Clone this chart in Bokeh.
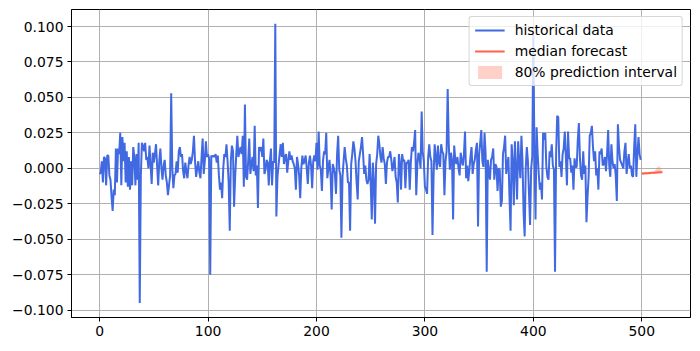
from bokeh.plotting import figure
from bokeh.models import Range1d, FixedTicker, CustomJSTickFormatter, Legend, LegendItem, ColumnDataSource
from bokeh.embed import file_html
from bokeh.resources import INLINE

hist = [
    -0.004, -0.003, 0.005, -0.010, 0.008, 0.007, -0.012, 0.009, 0.009, -0.005,
    -0.008, -0.020, -0.030, -0.015, -0.019, 0.014, -0.010, 0.014, 0.010, 0.025,
    -0.012, 0.022, 0.005, 0.018, -0.010, 0.012, -0.013, 0.008, -0.015, 0.005,
    -0.012, 0.015, 0.008, -0.012, 0.010, -0.008, 0.018, -0.095, -0.005, 0.018,
    0.016, 0.012, 0.018, 0.006, 0.008, 0.000, 0.016, 0.002, -0.011, 0.011,
    0.004, 0.010, 0.017, 0.002, -0.012, 0.005, 0.014, 0.000, -0.008, 0.002,
    0.006, -0.005, -0.010, -0.019, -0.012, -0.005, 0.053, 0.000, -0.014, -0.005,
    -0.004, 0.005, -0.003, 0.012, 0.015, 0.008, 0.010, -0.002, -0.007, 0.004,
    -0.002, -0.007, 0.002, 0.008, 0.003, 0.006, 0.012, 0.023, 0.005, -0.006,
    0.000, 0.005, -0.003, -0.007, 0.008, 0.021, -0.004, 0.005, 0.019, 0.008,
    0.010, 0.007, -0.075, 0.009, 0.008, 0.009, 0.008, 0.010, 0.004, 0.009,
    -0.005, -0.015, -0.010, -0.021, 0.000, 0.010, 0.008, 0.017, 0.005, -0.010,
    -0.044, 0.005, 0.016, 0.012, -0.027, -0.006, 0.010, 0.023, 0.008, 0.012,
    0.015, 0.010, 0.023, -0.013, 0.045, -0.006, -0.008, 0.005, 0.021, -0.004,
    0.003, 0.008, -0.002, 0.030, -0.005, 0.002, -0.028, 0.015, 0.012, 0.015,
    0.008, 0.021, -0.004, -0.001, 0.006, 0.004, -0.012, 0.005, 0.014, -0.012,
    0.005, 0.004, 0.102, -0.034, -0.006, 0.002, 0.010, 0.017, 0.008, 0.018,
    0.003, 0.008, 0.010, -0.003, 0.005, 0.012, 0.006, 0.009, 0.005, 0.003,
    0.000, -0.015, 0.008, 0.003, -0.005, -0.021, 0.000, 0.009, 0.003, 0.005,
    0.009, 0.000, -0.011, 0.004, 0.009, 0.002, -0.014, 0.005, 0.009, 0.005,
    0.018, -0.001, 0.026, 0.002, -0.001, -0.016, 0.005, 0.012, 0.010, 0.025,
    -0.007, 0.000, 0.006, -0.005, -0.029, 0.003, 0.000, -0.004, -0.018, 0.010,
    0.023, -0.001, -0.005, -0.049, -0.006, 0.005, 0.015, 0.007, 0.002, -0.010,
    -0.010, -0.044, 0.003, 0.010, 0.019, 0.014, 0.005, -0.010, -0.022, 0.005,
    0.010, 0.015, 0.022, 0.010, -0.004, 0.002, -0.008, -0.011, -0.008, 0.010,
    -0.011, -0.036, 0.004, -0.010, -0.039, 0.003, 0.010, 0.023, 0.017, 0.008,
    0.004, 0.015, 0.007, 0.003, -0.011, 0.004, 0.008, 0.008, 0.012, 0.006,
    -0.002, 0.002, 0.008, -0.006, -0.010, -0.024, 0.010, 0.004, -0.015, 0.010,
    0.005, 0.006, -0.014, 0.004, 0.004, 0.006, -0.015, 0.004, 0.015, 0.012,
    0.018, 0.027, -0.019, 0.002, 0.011, 0.008, 0.000, 0.040, 0.011, 0.005,
    -0.013, -0.015, -0.018, 0.008, 0.017, 0.008, 0.005, -0.047, -0.005, 0.017,
    0.008, -0.001, 0.016, 0.004, 0.001, 0.017, 0.012, 0.010, -0.019, 0.005,
    0.012, 0.056, 0.017, -0.001, 0.011, 0.006, -0.036, 0.016, 0.006, 0.003,
    0.008, 0.000, -0.005, 0.011, 0.005, 0.002, 0.010, 0.026, -0.007, 0.002,
    -0.009, -0.001, 0.008, 0.015, -0.004, 0.003, 0.006, 0.013, 0.018, -0.041,
    0.010, 0.018, 0.027, 0.005, 0.001, 0.025, 0.010, -0.073, 0.006, -0.002,
    -0.008, 0.006, 0.008, 0.014, -0.008, 0.003, 0.001, -0.016, 0.000, -0.001,
    -0.027, -0.023, 0.010, 0.015, 0.023, -0.004, 0.002, 0.008, -0.020, -0.044,
    0.017, 0.005, -0.026, 0.019, 0.000, -0.022, 0.019, 0.004, -0.007, 0.023,
    0.005, -0.031, -0.048, 0.000, 0.015, 0.005, -0.018, -0.040, 0.000, 0.008,
    0.095, 0.010, -0.036, 0.029, 0.010, -0.004, -0.015, -0.010, -0.022, 0.025,
    0.020, 0.025, 0.001, -0.006, -0.008, 0.012, 0.008, 0.017, 0.002, -0.001,
    -0.073, 0.010, 0.037, 0.036, 0.001, 0.005, -0.006, 0.010, 0.014, 0.026,
    0.008, -0.012, 0.026, 0.007, 0.007, -0.003, 0.002, -0.015, 0.007, 0.001,
    0.001, 0.020, 0.032, 0.007, -0.005, -0.008, 0.012, -0.004, 0.002, -0.038,
    -0.020, -0.006, 0.023, 0.025, 0.030, 0.015, 0.005, 0.012, -0.005, 0.000,
    -0.015, 0.012, 0.010, 0.014, 0.002, 0.003, 0.008, -0.002, 0.010, 0.027,
    0.002, -0.006, 0.017, 0.005, 0.000, 0.003, -0.005, -0.023, 0.031, 0.015,
    0.006, 0.004, 0.002, 0.000, 0.012, 0.018, -0.004, 0.004, 0.010, 0.000,
    0.002, -0.005, -0.006, 0.015, 0.031, -0.006, 0.010, 0.022, 0.010, 0.006,
]
hist_x = list(range(len(hist)))

fc_x = list(range(500, 520))
fc_median = [-0.0037, -0.0036, -0.0036, -0.0035, -0.0035, -0.0034, -0.0034, -0.0033,
             -0.0033, -0.0032, -0.0032, -0.0031, -0.0031, -0.0030, -0.0029, -0.0028,
             -0.0027, -0.0027, -0.0027, -0.0027]
fc_low = [-0.0045, -0.0044, -0.0044, -0.0043, -0.0043, -0.0042, -0.0042, -0.0041,
          -0.0041, -0.0040, -0.0040, -0.0040, -0.0040, -0.0040, -0.0040, -0.0039,
          -0.0037, -0.0036, -0.0035, -0.0035]
fc_high = [-0.0029, -0.0028, -0.0028, -0.0027, -0.0027, -0.0026, -0.0026, -0.0025,
           -0.0025, -0.0024, -0.0024, -0.0022, -0.0018, -0.0008, 0.0005, 0.0013,
           0.0015, 0.0011, -0.0008, -0.0019]

x_ticks = [0, 100, 200, 300, 400, 500]
y_ticks = [-0.1, -0.075, -0.05, -0.025, 0.0, 0.025, 0.05, 0.075, 0.1]

FONT = "DejaVu Sans"
FS = "13.9px"

p = figure(width=700, height=351, output_backend="svg", toolbar_location=None,
           x_range=Range1d(-25.95, 544.95), y_range=Range1d(-0.1052, 0.1120),
           min_border_left=71, min_border_right=10, min_border_top=9, min_border_bottom=34)
p.background_fill_color = "white"
p.border_fill_color = "white"
p.outline_line_color = "black"
p.outline_line_width = 1

src_f = ColumnDataSource(dict(x=fc_x, lo=fc_low, hi=fc_high, m=fc_median))
band = p.varea(x="x", y1="lo", y2="hi", source=src_f, fill_color="#FF6347", fill_alpha=0.3)
r_hist = p.line(hist_x, hist, line_color="#4169E1", line_width=2)
r_med = p.line(x="x", y="m", source=src_f, line_color="#FF6347", line_width=2)

for ax in (p.xaxis[0], p.yaxis[0]):
    ax.axis_line_color = "black"
    ax.major_tick_line_color = "black"
    ax.major_tick_out = 4
    ax.major_tick_in = 0
    ax.minor_tick_line_color = None
    ax.major_label_text_font = FONT
    ax.major_label_text_font_size = FS
    ax.major_label_text_color = "black"
    ax.major_label_standoff = 4

p.xaxis[0].ticker = FixedTicker(ticks=x_ticks)
p.yaxis[0].ticker = FixedTicker(ticks=y_ticks)
p.yaxis[0].formatter = CustomJSTickFormatter(code="""
    const s = Math.abs(tick).toFixed(3);
    return (tick < -1e-9 ? "\u2212" : "") + s;
""")

p.xgrid.grid_line_color = "#b0b0b0"
p.ygrid.grid_line_color = "#b0b0b0"
p.xgrid.grid_line_width = 1
p.ygrid.grid_line_width = 1
p.xgrid.ticker = FixedTicker(ticks=x_ticks)
p.ygrid.ticker = FixedTicker(ticks=y_ticks)

legend = Legend(items=[
    LegendItem(label="historical data", renderers=[r_hist]),
    LegendItem(label="median forecast", renderers=[r_med]),
    LegendItem(label="80% prediction interval", renderers=[band]),
], location="top_right")
legend.margin = 7
legend.padding = 5
legend.spacing = 5
legend.glyph_width = 30
legend.glyph_height = 16
legend.label_height = 16
legend.label_standoff = 10
legend.label_text_font = FONT
legend.label_text_font_size = FS
legend.label_text_color = "black"
legend.border_line_color = "#cccccc"
legend.border_line_alpha = 0.8
legend.border_line_width = 1
legend.background_fill_color = "white"
legend.background_fill_alpha = 0.8
try:
    legend.border_radius = 3
except Exception:
    pass
p.add_layout(legend)

open("out.html", "w").write(file_html(p, INLINE))
